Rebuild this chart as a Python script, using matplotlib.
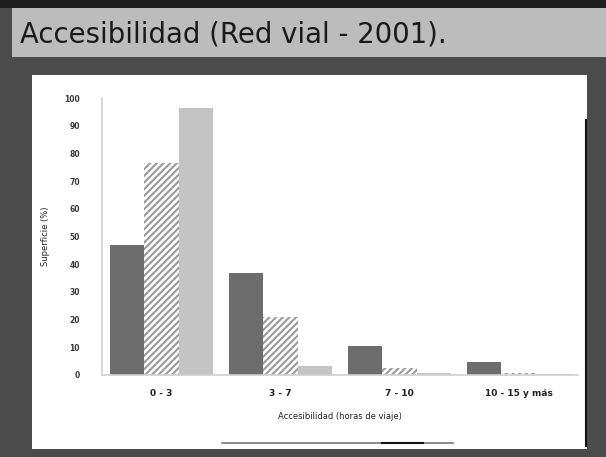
import matplotlib
matplotlib.use("Agg")
import matplotlib.pyplot as plt
from matplotlib.patches import Rectangle
from matplotlib.lines import Line2D
import numpy as np

categories = ["0 - 3", "3 - 7", "7 - 10", "10 - 15 y más"]
serie_a = [47, 37, 10.5, 4.7]
serie_b = [76.5, 21, 2.5, 0.8]
serie_c = [96.5, 3.2, 0.6, 0.5]
yticks = [0, 10, 20, 30, 40, 50, 60, 70, 80, 90, 100]
ytick_labels = ["0", "10", "20", "30", "40", "50", "60", "70", "80", "90", "100"]

W, H = 606, 457
fig = plt.figure(figsize=(W / 100, H / 100), dpi=100, facecolor="#4b4b4b")

def px_rect(x0, y0, x1, y1, **kw):
    fig.patches.append(Rectangle((x0 / W, 1 - y1 / H), (x1 - x0) / W, (y1 - y0) / H,
                                 transform=fig.transFigure, figure=fig, zorder=-5, **kw))

# top dark strip
px_rect(0, 0, W, 8, facecolor="#1e1e1e", edgecolor="none")
# title band
px_rect(12, 8, W, 57, facecolor="#bcbcbc", edgecolor="none")
# white panel
px_rect(32, 75, 587, 449, facecolor="white", edgecolor="none")
fig.lines.append(Line2D([586 / W, 586 / W], [1 - 120 / H, 1 - 446 / H], transform=fig.transFigure,
                        color="#111111", lw=1.5))
# bottom artifact line
fig.lines.append(Line2D([222 / W, 453 / W], [1 - 443 / H, 1 - 443 / H], transform=fig.transFigure,
                        color="#777777", lw=1.2))
fig.lines.append(Line2D([382 / W, 423 / W], [1 - 443 / H, 1 - 443 / H], transform=fig.transFigure,
                        color="#111111", lw=1.5))

fig.text(20 / W, 1 - 35 / H, "Accesibilidad (Red vial - 2001).", fontsize=19.8,
         color="#1a1a1a", ha="left", va="center", family="DejaVu Sans")

ax = fig.add_axes([102 / W, 1 - 375 / H, 476 / W, 277 / H])
ax.set_zorder(5)
ax.set_facecolor("white")
x = np.arange(len(categories))
bw = 0.29
plt.rcParams["hatch.linewidth"] = 1.5
ax.bar(x - bw, serie_a, bw, color="#6d6d6d", edgecolor="none")
ax.bar(x, serie_b, bw, color="white", edgecolor="#9a9a9a", hatch="/////", linewidth=0)
ax.bar(x + bw, serie_c, bw, color="#c4c4c4", edgecolor="none")

ax.set_xlim(-0.5, 3.5)
ax.set_ylim(0, 100)
ax.set_yticks(yticks)
ax.set_yticklabels(ytick_labels)
ax.set_xticks(x)
ax.set_xticklabels(categories)
for s in ["top", "right"]:
    ax.spines[s].set_visible(False)
for s in ["left", "bottom"]:
    ax.spines[s].set_color("#d0d0d0")
    ax.spines[s].set_linewidth(1.2)
ax.tick_params(axis="y", length=0, pad=16, labelsize=5.5, labelcolor="#3a3a3a")
ax.tick_params(axis="x", length=0, pad=10, labelsize=6.5, labelcolor="#222222")
for t in ax.get_xticklabels() + ax.get_yticklabels():
    t.set_fontweight("bold")
ax.set_xlabel("Accesibilidad (horas de viaje)", fontsize=6, color="#222222", labelpad=10)
ax.set_ylabel("Superficie (%)", fontsize=6, color="#222222", labelpad=10)

fig.savefig("out.png", dpi=100, facecolor=fig.get_facecolor())
